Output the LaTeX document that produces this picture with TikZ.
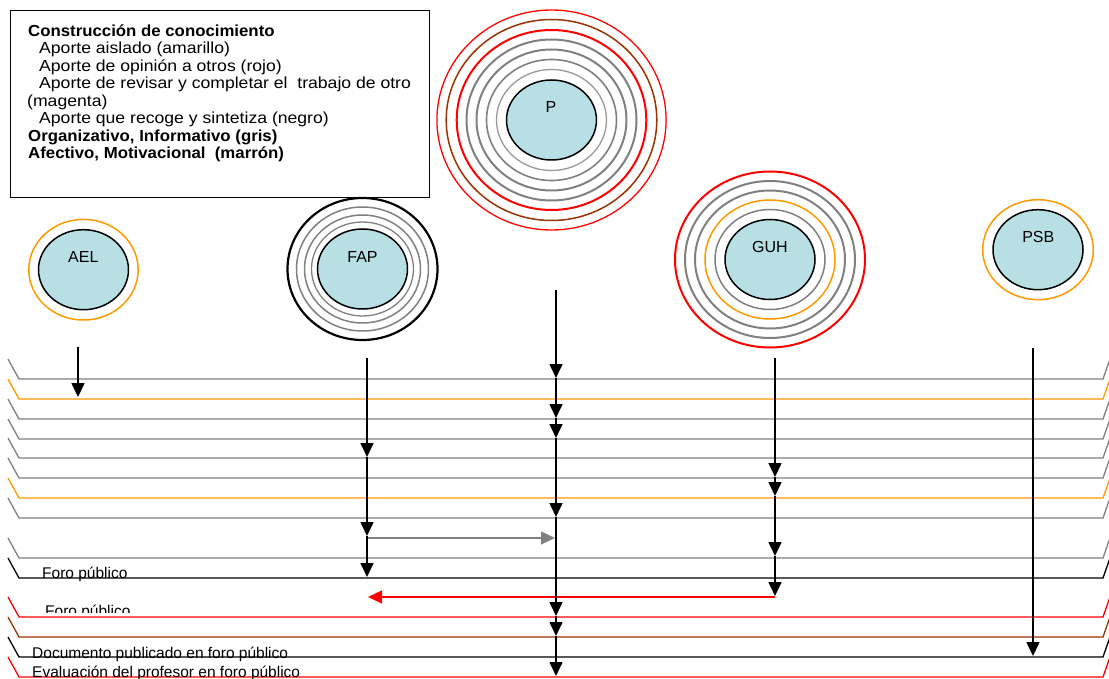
\documentclass[tikz,border=0pt]{standalone}
\usepackage{fontspec}
\setmainfont{Liberation Sans}
\newfontfamily\legfont[FakeStretch=1.1]{Liberation Sans}
\newfontfamily\legboldfont[FakeStretch=1.05]{Liberation Sans}
\usetikzlibrary{arrows.meta,shapes.geometric}

\definecolor{gris}{RGB}{128,128,128}
\definecolor{amarillo}{RGB}{255,153,0}
\definecolor{rojo}{RGB}{255,0,0}
\definecolor{marron}{RGB}{153,51,0}
\definecolor{nodefill}{RGB}{184,223,228}

\begin{document}
\begin{tikzpicture}[x=1pt,y=-1pt,
  person/.style={ellipse, draw=black, line width=1.5pt, fill=nodefill,
    minimum width=90pt, minimum height=80pt, inner sep=0pt},
  who/.style={font=\fontsize{16}{18}\selectfont, inner sep=0pt},
  track/.style={line width=1.3pt, line join=miter},
  flow/.style={line width=1.6pt, -{Triangle[length=14pt,width=13pt]}},
  sideflow/.style={line width=1.3pt, -{Triangle[length=14pt,width=13pt]}},
  legreg/.style={anchor=base west, inner sep=0pt, font=\legfont\fontsize{16}{17.5}\selectfont},
  legbold/.style={anchor=base west, inner sep=0pt, font=\legboldfont\bfseries\fontsize{16}{17.5}\selectfont},
  tracklabel/.style={anchor=base west, inner sep=0pt, font=\fontsize{15.5}{18}\selectfont},
]
\useasboundingbox (0,0) rectangle (1109,679);

% ---- legend ----
\node[draw, line width=1.3pt, minimum width=419pt, minimum height=187pt,
      anchor=north west, inner sep=0pt] (legend) at (10,10) {};
\node[legbold] (leg1) at (28,36.5) {Construcción de conocimiento};
\node[legreg]  (leg2) at (39,54)   {Aporte aislado (amarillo)};
\node[legreg]  (leg3) at (39,71.5) {Aporte de opinión a otros (rojo)};
\node[legreg]  (leg4) at (39,89)   {Aporte de revisar y completar el\ \ trabajo de otro};
\node[legreg]  (leg5) at (27,106.5){(magenta)};
\node[legreg]  (leg6) at (39,124)  {Aporte que recoge y sintetiza (negro)};
\node[legbold] (leg7) at (28,141.5){Organizativo, Informativo (gris)};
\node[legbold] (leg8) at (28,159)  {Afectivo, Motivacional\ \ (marrón)};

% ---- participants and their contribution rings ----
% P
\coordinate (pc) at (551.5,120);
\draw[rojo, line width=1.3pt]   (pc) ellipse [x radius=114.6pt, y radius=110pt];
\draw[marron, line width=1.5pt] (pc) ellipse [x radius=105.3pt, y radius=100.5pt];
\draw[rojo, line width=2pt]     (pc) ellipse [x radius=94.8pt, y radius=90pt];
\draw[gris, line width=2pt]     (pc) ellipse [x radius=85pt, y radius=80.5pt];
\draw[gris, line width=2pt]     (pc) ellipse [x radius=75pt, y radius=70.5pt];
\draw[gris, line width=1.6pt]   (pc) ellipse [x radius=65pt, y radius=60.5pt];
\draw[gris!80, line width=1.3pt](pc) ellipse [x radius=55pt, y radius=50.5pt];
\node[person] (p) at (pc) {};
\node[who] (plabel) at (551,106.7) {P};

% FAP
\coordinate (fc) at (362.5,269);
\draw[black, line width=2.2pt] (fc) ellipse [x radius=75pt, y radius=71pt];
\draw[gris, line width=1.5pt]  (fc) ellipse [x radius=66pt, y radius=62pt];
\draw[gris, line width=1.5pt]  (fc) ellipse [x radius=58pt, y radius=54pt];
\draw[gris, line width=1.3pt]  (fc) ellipse [x radius=51pt, y radius=47pt];
\node[person] (fap) at (fc) {};
\node[who] (faplabel) at (362.5,256.7) {FAP};

% GUH
\coordinate (gc) at (770,259.5);
\draw[rojo, line width=2pt]       (gc) ellipse [x radius=95pt, y radius=88pt];
\draw[gris, line width=2pt]       (gc) ellipse [x radius=85pt, y radius=78.5pt];
\draw[gris, line width=2pt]       (gc) ellipse [x radius=75pt, y radius=69pt];
\draw[amarillo, line width=1.5pt] (gc) ellipse [x radius=65pt, y radius=59.5pt];
\draw[gris, line width=1.5pt]     (gc) ellipse [x radius=55pt, y radius=50pt];
\node[person] (guh) at (gc) {};
\node[who] (guhlabel) at (770,246.7) {GUH};

% AEL
\coordinate (ac) at (83.5,269.7);
\draw[amarillo, line width=1.5pt] (ac) ellipse [x radius=54.7pt, y radius=50.3pt];
\node[person] (ael) at (ac) {};
\node[who] (aellabel) at (83.3,256.7) {AEL};

% PSB
\coordinate (sc) at (1038,249.7);
\draw[amarillo, line width=1.5pt] (sc) ellipse [x radius=55.3pt, y radius=50pt];
\node[person] (psb) at (sc) {};
\node[who] (psblabel) at (1038.3,236.7) {PSB};

% ---- forum timeline ----
\foreach \y/\c in {379/gris, 399/amarillo, 419/gris, 439/gris, 458/gris,
                   478/gris, 498/amarillo, 518/gris, 558/gris, 578/black,
                   617/rojo, 637/marron, 657/black, 677/rojo}
  \draw[track, \c] (8,\y-20) -- (19,\y) -- (1103,\y) -- (1110,\y-20);

\node[tracklabel] (foro1) at (42,578) {Foro público};
\begin{scope}
  \clip (40,598) rectangle (145,612.5);
  \node[tracklabel] (foro2) at (45,616) {Foro público};
\end{scope}
\node[tracklabel] (docpub) at (32,658) {Documento publicado en foro público};
\node[tracklabel] (evalprof) at (32,677.5) {Evaluación del profesor en foro público};

% ---- contribution points ----
\coordinate (aout) at (78,347);
\coordinate (a1) at (78,397);

\coordinate (fout) at (367,358);
\coordinate (f1) at (367,457);
\coordinate (f2) at (367,536);
\coordinate (f3) at (367,577);
\coordinate (fbranch) at (367,538);
\coordinate (fred) at (368,597);

\coordinate (pout) at (556,290);
\coordinate (p1) at (556,378);
\coordinate (p2) at (556,418);
\coordinate (p3) at (556,438);
\coordinate (p4) at (556,517);
\coordinate (p5) at (556,616);
\coordinate (p6) at (556,636);
\coordinate (p7) at (556,676);
\coordinate (pgray) at (555,538);

\coordinate (gout) at (775,358);
\coordinate (g1) at (775,477);
\coordinate (g2) at (775,496);
\coordinate (g3) at (775,556);
\coordinate (g4) at (775,596);
\coordinate (gred) at (775,597);

\coordinate (sout) at (1033,348);
\coordinate (s1) at (1033,656);

% ---- contribution arrows ----
\draw[flow] (aout) -- (a1);

\draw[sideflow, gris] (fbranch) -- (pgray);
\draw[sideflow, rojo] (gred) -- (fred);

\draw[flow] (fout) -- (f1);
\draw[flow] (f1) -- (f2);
\draw[flow] (f2) -- (f3);

\draw[flow] (pout) -- (p1);
\draw[flow] (p1) -- (p2);
\draw[flow] (p2) -- (p3);
\draw[flow] (p3) -- (p4);
\draw[flow] (p4) -- (p5);
\draw[flow] (p5) -- (p6);
\draw[flow] (p6) -- (p7);

\draw[flow] (gout) -- (g1);
\draw[flow] (g1) -- (g2);
\draw[flow] (g2) -- (g3);
\draw[flow] (g3) -- (g4);

\draw[flow] (sout) -- (s1);
\end{tikzpicture}
\end{document}
